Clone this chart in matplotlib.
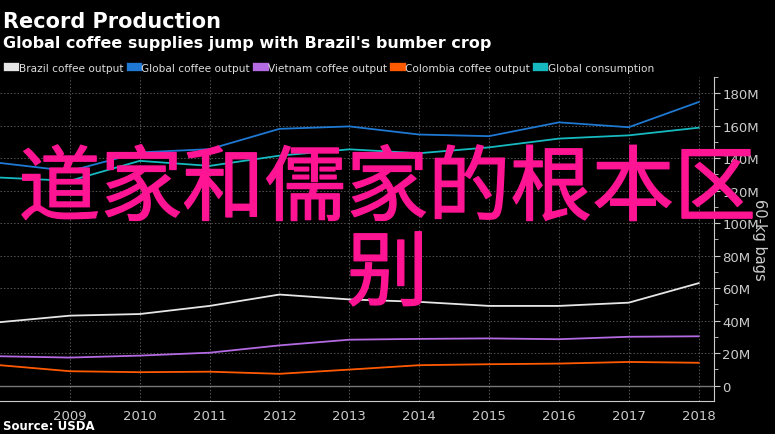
import matplotlib.pyplot as plt
import matplotlib.patheffects as pe
from matplotlib.ticker import MultipleLocator, FuncFormatter

years = [2008, 2009, 2010, 2011, 2012, 2013, 2014, 2015, 2016, 2017, 2018]
brazil = [39, 43, 44, 49, 56, 53, 51.5, 49, 49, 51, 63]
global_output = [137, 132, 143.5, 145.5, 158, 159.5, 154.5, 153.5, 162, 159, 174.5]
vietnam = [18, 17.2, 18.4, 20.2, 24.7, 28.2, 28.7, 29, 28.5, 30, 30.3]
colombia = [12.5, 8.8, 8.2, 8.5, 7.2, 9.8, 12.5, 13.1, 13.5, 14.5, 14]
consumption = [128, 126, 138.3, 135.2, 141.5, 145.4, 143, 146.6, 152, 154, 158.7]

series = [
    ("Brazil coffee output", brazil, "#e6e6e6"),
    ("Global coffee output", global_output, "#1f78d1"),
    ("Vietnam coffee output", vietnam, "#b36ae2"),
    ("Colombia coffee output", colombia, "#ff5a00"),
    ("Global consumption", consumption, "#16b9c0"),
]

fig = plt.figure(figsize=(7.75, 4.35), dpi=100, facecolor="black")
ax = fig.add_axes([0, 0.076, 0.9213, 0.745], facecolor="black")

for name, vals, col in series:
    ax.plot(years, vals, color=col, lw=1.3, label=name)

ax.set_xlim(2008, 2018.22)
ax.set_ylim(-9.5, 190)
ax.axhline(0, color="#777777", lw=1)

ax.yaxis.tick_right()
ax.yaxis.set_label_position("right")
ax.yaxis.set_major_locator(MultipleLocator(20))
ax.yaxis.set_minor_locator(MultipleLocator(10))
ax.yaxis.set_major_formatter(FuncFormatter(lambda v, p: "0" if v == 0 else f"{int(v)}M"))
ax.set_xticks(years[1:])
ax.tick_params(axis="x", colors="#cccccc", labelsize=9.5, length=0, pad=6)
ax.tick_params(axis="y", which="both", colors="#cccccc", labelsize=9.5, direction="out")
ax.tick_params(axis="y", which="major", length=4, pad=2)
ax.tick_params(axis="y", which="minor", length=3)
ax.set_ylabel("60-kg bags", color="#cccccc", fontsize=10.5, rotation=270, labelpad=6)

ax.grid(True, which="major", color="#555555", ls=(0, (1.5, 2)), lw=0.7)
for s in ["top", "left"]:
    ax.spines[s].set_visible(False)
ax.spines["right"].set_color("#cccccc")
ax.spines["bottom"].set_color("#cccccc")

fig.text(0.004, 0.935, "Record Production", color="white", fontsize=15, fontweight="bold")
fig.text(0.004, 0.89, "Global coffee supplies jump with Brazil's bumber crop",
         color="white", fontsize=11.5, fontweight="bold")
fig.text(0.004, 0.012, "Source: USDA", color="white", fontsize=8.5, fontweight="bold")

leg = fig.legend(loc="upper left", bbox_to_anchor=(-0.002, 0.875), ncol=5, frameon=False,
                 fontsize=7.6, labelcolor="#dddddd", handlelength=0.7, handleheight=0.7,
                 handletextpad=0.3, columnspacing=0.7)
for h, (_, _, col) in zip(leg.legend_handles, series):
    h.set_linewidth(6)

# overlay caption, regular weight thickened a little with a same-colour stroke
fig.text(0.5, 0.462, "道家和儒家的根本区\n别", color="#ff1493", fontsize=59,
         ha="center", va="center", linespacing=1.0,
         family=["Noto Sans CJK SC", "DejaVu Sans"],
         path_effects=[pe.withStroke(linewidth=1.0, foreground="#ff1493")])

fig.savefig("out.png", dpi=100, facecolor="black")
